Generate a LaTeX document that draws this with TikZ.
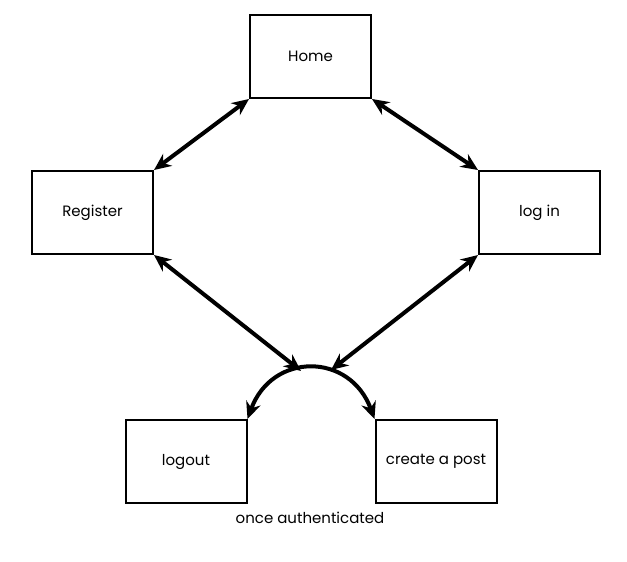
\documentclass[tikz,border=0pt]{standalone}
\usepackage{fontspec}
\setmainfont{Poppins}
\usetikzlibrary{arrows.meta}
\begin{document}
\begin{tikzpicture}[x=1pt,y=-1pt,
  lbl/.style={font=\fontsize{15}{17}\selectfont},
  box/.style={draw,line width=2pt,minimum width=121pt,minimum height=83pt,inner sep=0pt,lbl},
  link/.style={line width=4pt,{Stealth[length=17pt,width=15pt]}-{Stealth[length=17pt,width=15pt]}}]
\useasboundingbox (0,0) rectangle (627,562);
\node[box] (home) at (310.5,56.5) {Home};
\node[box] (reg) at (92.5,212.5) {Register};
\node[box] (login) at (539.5,212.5) {log in};
\node[box] (logout) at (186,461.5) {logout};
\node[box] (post) at (436,461.5) {create a post};
\node[lbl] (once) at (310,518) {once authenticated};
\coordinate (jl) at (301,371);
\coordinate (jr) at (331,370);
\draw[link] (home.south west) -- (reg.north east);
\draw[link] (home.south east) -- (login.north west);
\draw[link] (reg.south east) -- (jl);
\draw[link] (login.south west) -- (jr);
\draw[link] (logout.north east) .. controls (272,352) and (350,352) .. (post.north west);
\end{tikzpicture}
\end{document}
